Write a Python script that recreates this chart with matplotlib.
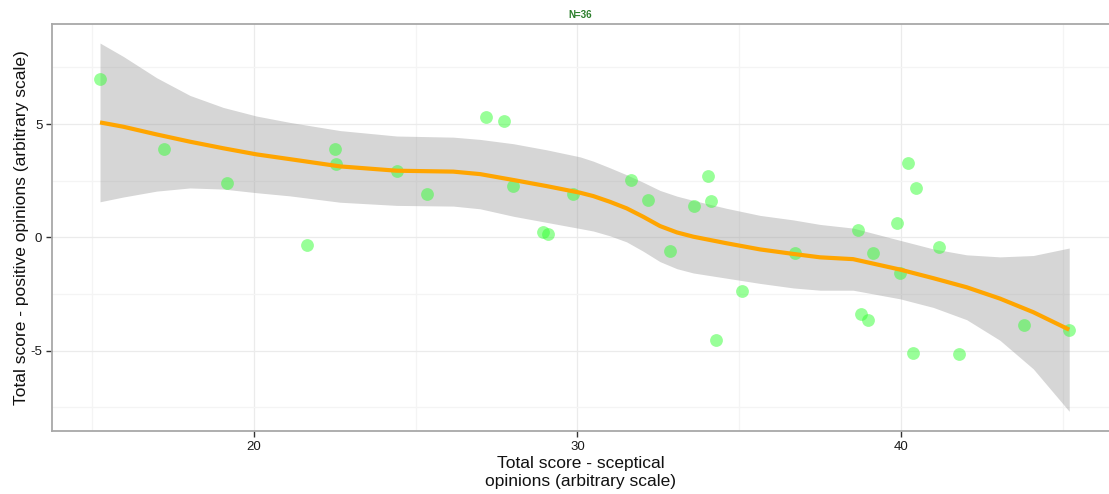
import matplotlib
matplotlib.use("Agg")
import matplotlib.pyplot as plt
import numpy as np
from matplotlib.ticker import MultipleLocator

plt.rcParams['font.family'] = ['Liberation Sans', 'DejaVu Sans']
plt.rcParams['axes.unicode_minus'] = False

# scores per respondent
sceptical = [15.24, 17.22, 19.17, 21.64, 22.50, 22.53, 24.42, 25.35, 27.17, 27.73,
             28.01, 28.93, 29.09, 29.86, 31.65, 32.18, 32.86, 33.60, 34.03, 34.13,
             34.28, 35.08, 36.72, 38.67, 38.76, 38.98, 39.13, 39.88, 39.97, 40.22,
             40.37, 40.46, 41.17, 41.79, 43.80, 45.19]
positive = [7.00, 3.89, 2.39, -0.35, 3.89, 3.23, 2.92, 1.90, 5.31, 5.13,
            2.26, 0.22, 0.13, 1.90, 2.52, 1.64, -0.62, 1.37, 2.70, 1.59,
            -4.51, -2.35, -0.71, 0.31, -3.36, -3.63, -0.71, 0.62, -1.55, 3.27,
            -5.09, 2.17, -0.44, -5.13, -3.85, -4.07]

# loess smooth and its confidence half-width
smooth_x = [15.24, 15.96, 16.99, 18.02, 19.05, 20.08, 21.11, 22.66, 24.41, 26.16,
            26.99, 28.02, 29.05, 30.08, 30.49, 31.00, 31.52, 32.03, 32.55, 33.07,
            33.58, 34.61, 35.64, 36.67, 37.50, 38.52, 39.97, 41.00, 42.03, 43.06,
            44.09, 45.20]
smooth_fit = [5.07, 4.88, 4.54, 4.22, 3.93, 3.66, 3.45, 3.13, 2.94, 2.90,
              2.79, 2.53, 2.26, 1.97, 1.82, 1.57, 1.28, 0.91, 0.50, 0.22,
              0.03, -0.26, -0.53, -0.73, -0.88, -0.96, -1.42, -1.80, -2.20, -2.70,
              -3.30, -4.07]
smooth_ci = [3.50, 3.10, 2.50, 2.04, 1.80, 1.69, 1.62, 1.58, 1.53, 1.52,
             1.53, 1.60, 1.60, 1.58, 1.54, 1.50, 1.48, 1.52, 1.57, 1.60,
             1.60, 1.54, 1.50, 1.50, 1.45, 1.37, 1.29, 1.29, 1.43, 1.84,
             2.50, 3.60]

fig = plt.figure(figsize=(11.09, 4.94), dpi=100)
ax = fig.add_axes([0.0469, 0.1275, 0.9531, 0.8239])

fit = np.array(smooth_fit)
ci = np.array(smooth_ci)
ax.fill_between(smooth_x, fit - ci, fit + ci, color='#999999', alpha=0.4,
                linewidth=0, zorder=2)
ax.scatter(sceptical, positive, s=85, color='#33ff33', alpha=0.5,
           linewidths=0, zorder=3)
ax.plot(smooth_x, fit, color='#ffa500', linewidth=3, zorder=4,
        solid_capstyle='butt', solid_joinstyle='round')

ax.set_xlim(13.756, 46.43)
ax.set_ylim(-8.54, 9.41)
ax.xaxis.set_major_locator(MultipleLocator(10))
ax.xaxis.set_minor_locator(MultipleLocator(5))
ax.yaxis.set_major_locator(MultipleLocator(5))
ax.yaxis.set_minor_locator(MultipleLocator(2.5))
ax.grid(which='major', color='#ebebeb', linewidth=0.9, zorder=0)
ax.grid(which='minor', color='#f4f4f4', linewidth=0.9, zorder=0)
ax.set_axisbelow(True)

for side in ['left', 'bottom', 'top']:
    ax.spines[side].set_color('#a8a8a8')
    ax.spines[side].set_linewidth(1.3)
ax.spines['right'].set_visible(False)

ax.tick_params(which='major', direction='out', length=4, width=1,
               color='#333333', labelsize=9.5, labelcolor='#1a1a1a', pad=3)
ax.tick_params(which='minor', length=0)
ax.tick_params(top=False, right=False)

ax.set_xlabel('Total score - sceptical\nopinions (arbitrary scale)',
              fontsize=12.5, color='#111111', labelpad=2, linespacing=1.3)
ax.set_ylabel('Total score - positive opinions (arbitrary scale)',
              fontsize=12.5, color='#111111', labelpad=1)
ax.set_title('N=36', fontsize=7, color='#2a7d2a', pad=4, fontweight='bold')

fig.savefig('out.png', dpi=100)
